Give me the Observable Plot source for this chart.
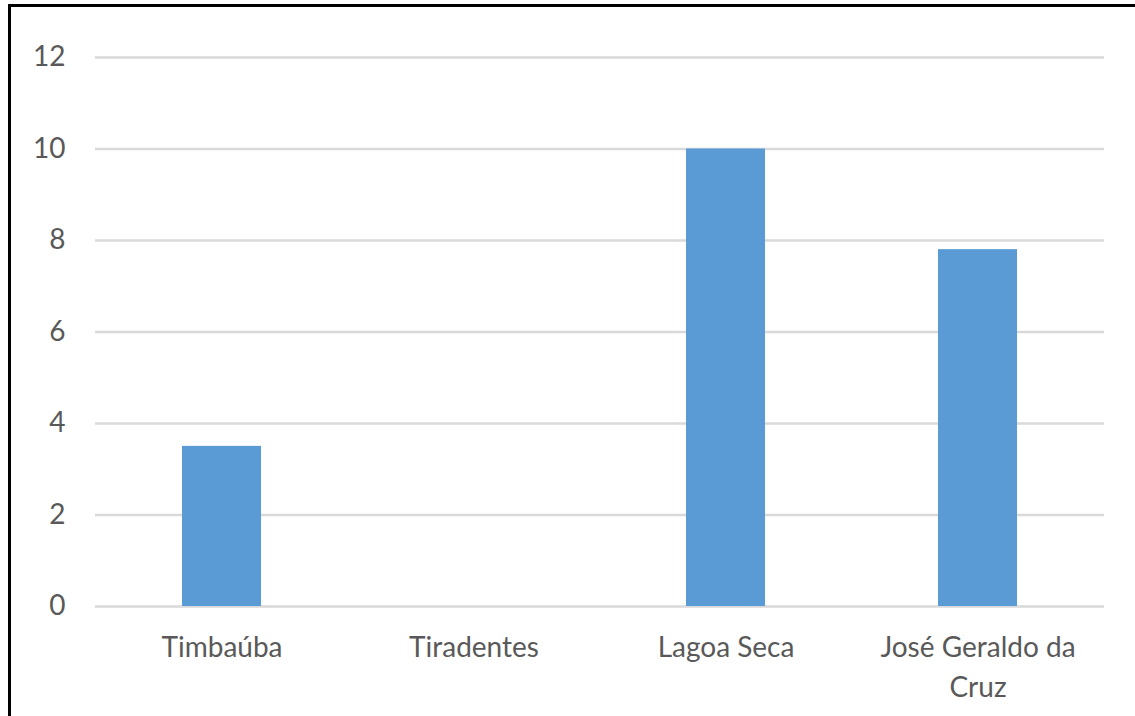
<!DOCTYPE html>
<html>
<head>
<meta charset="utf-8">
<script src="https://cdn.jsdelivr.net/npm/d3@7"></script>
<script src="https://cdn.jsdelivr.net/npm/@observablehq/plot@0.6"></script>
<style>
  html, body { margin: 0; padding: 0; background: #fff; }
  #wrap { position: relative; width: 1135px; height: 716px; overflow: hidden; }
  #frame { position: absolute; left: 8px; top: 4px; right: -10px; bottom: -10px;
           border-left: 3px solid #000; border-top: 3px solid #000; pointer-events: none; }
</style>
</head>
<body>
<div id="wrap"><div id="frame"></div></div>
<script>
const categories = ["Timbaúba", "Tiradentes", "Lagoa Seca", "José Geraldo da Cruz"];
const values = [3.5, 0, 10, 7.8];
const categoryLabels = ["Timbaúba", "Tiradentes", "Lagoa Seca", "José Geraldo da\nCruz"];
const yTicks = [0, 2, 4, 6, 8, 10, 12];

const data = categories.map((c, i) => ({category: c, value: values[i]}));
const labelOf = new Map(categories.map((c, i) => [c, categoryLabels[i]]));

const chart = Plot.plot({
  width: 1135,
  height: 716,
  marginLeft: 95,
  marginRight: 31,
  marginTop: 57,
  marginBottom: 110,
  style: {fontFamily: "Lato, sans-serif", fontSize: "28px", color: "#595959", background: "transparent"},
  x: {domain: categories, paddingInner: 0.687, paddingOuter: 0.3435, label: null},
  y: {domain: [0, 12], label: null},
  marks: [
    Plot.ruleY(yTicks, {stroke: "#d9d9d9", strokeWidth: 2.5}),
    Plot.barY(data, {x: "category", y: "value", fill: "#5b9bd5"}),
    Plot.axisY({ticks: yTicks, tickSize: 0, tickPadding: 30, label: null, fill: "#595959"}),
    Plot.axisX({tickSize: 0, tickPadding: 22, label: null, fill: "#595959",
                tickFormat: d => labelOf.get(d), lineHeight: 1.43})
  ]
});
chart.style.position = "absolute";
chart.style.left = "0";
chart.style.top = "0";
document.getElementById("wrap").prepend(chart);
</script>
</body>
</html>
